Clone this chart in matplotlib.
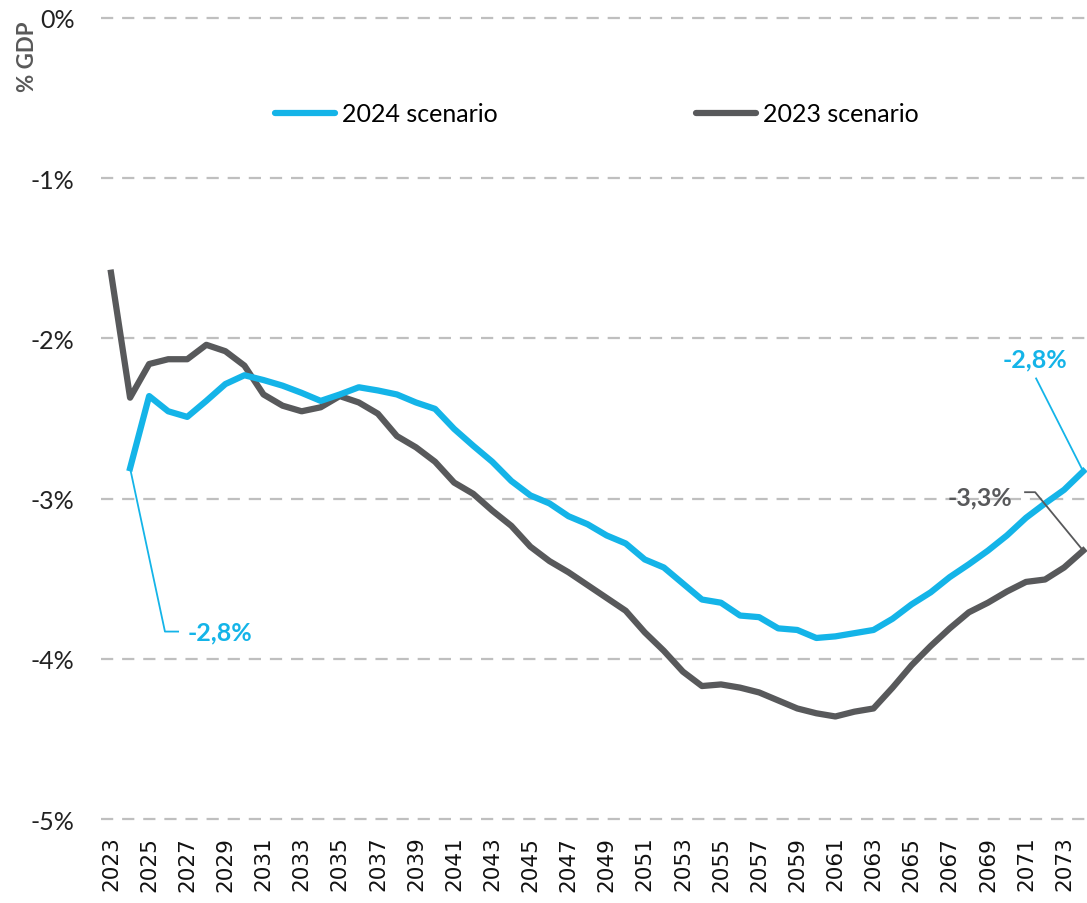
import numpy as np
import matplotlib.pyplot as plt

# data (% of GDP)
years_2023 = np.arange(2023, 2075)
scen_2023 = [-1.59, -2.37, -2.16, -2.13, -2.13, -2.04, -2.08, -2.17, -2.35, -2.42,
             -2.455, -2.43, -2.36, -2.40, -2.47, -2.61, -2.68, -2.77, -2.90, -2.97,
             -3.075, -3.17, -3.30, -3.39, -3.46, -3.54, -3.62, -3.70, -3.835, -3.95,
             -4.08, -4.17, -4.16, -4.18, -4.21, -4.26, -4.31, -4.34, -4.36, -4.33,
             -4.31, -4.18, -4.04, -3.92, -3.81, -3.71, -3.65, -3.58, -3.52, -3.505,
             -3.43, -3.325]

years_2024 = np.arange(2024, 2075)
scen_2024 = [-2.81, -2.36, -2.455, -2.49, -2.39, -2.285, -2.23, -2.26, -2.295, -2.34,
             -2.39, -2.35, -2.305, -2.325, -2.35, -2.40, -2.44, -2.565, -2.67, -2.77,
             -2.89, -2.98, -3.03, -3.11, -3.16, -3.23, -3.28, -3.38, -3.43, -3.53,
             -3.63, -3.65, -3.73, -3.74, -3.81, -3.82, -3.87, -3.86, -3.84, -3.82,
             -3.75, -3.66, -3.585, -3.49, -3.41, -3.325, -3.23, -3.12, -3.03, -2.945,
             -2.83]

xticks = np.arange(2023, 2075, 2)
yticks = [0, -1, -2, -3, -4, -5]
ytick_labels = ['0%', '-1%', '-2%', '-3%', '-4%', '-5%']

blue = '#14B4E8'
dark = '#58595B'
grid_col = '#BFBFBF'

plt.rcParams['font.family'] = ['Lato', 'DejaVu Sans']

fig = plt.figure(figsize=(10.87, 9.04), dpi=100)
ax = fig.add_axes([101/1087, 1-820/904, (1087-101)/1087, (820-19)/904])

ax.plot(years_2023, scen_2023, color=dark, lw=4.5, solid_joinstyle='round', clip_on=False, zorder=3)
ax.plot(years_2024, scen_2024, color=blue, lw=4.5, solid_joinstyle='round', clip_on=False, zorder=4)

ax.set_xlim(2022.475, 2074.2)
ax.set_ylim(-5, 0)

for yv in yticks:
    ax.axhline(yv, color=grid_col, lw=1.6, dashes=(5.5, 4), zorder=1, clip_on=False)

ax.set_yticks(yticks)
ax.set_yticklabels(ytick_labels, fontsize=18, color='#222222')
ax.set_xticks(xticks)
ax.set_xticklabels([str(y) for y in xticks], rotation=90, fontsize=15.5,
                   color='#111111', family='DejaVu Sans')
ax.tick_params(axis='both', length=0)
ax.tick_params(axis='y', pad=19)
ax.tick_params(axis='x', pad=12)
for s in ax.spines.values():
    s.set_visible(False)

fig.text(28/1087, 1-57/904, '% GDP', rotation=90, fontsize=16, fontweight='bold',
         color='#595959', ha='center', va='center')

# legend, one row at the top
h1, = ax.plot([], [], color=blue, lw=4.5, solid_capstyle='round')
h2, = ax.plot([], [], color=dark, lw=4.5, solid_capstyle='round')
fig.legend([h1, h2], ['2024 scenario', '2023 scenario'], loc='center',
           bbox_to_anchor=(597/1087, 1-115/904), ncol=2, frameon=False,
           fontsize=18, handlelength=2.4, handletextpad=0.3, columnspacing=7.9)

# end-value labels with leader lines (anchored on the series end points)
x0, y0 = years_2024[0], scen_2024[0]
ax.plot([x0, x0 + 1.83, x0 + 2.52], [y0, -3.83, -3.83], color=blue, lw=1.3,
        clip_on=False, zorder=5)
ax.text(x0 + 3.0, -3.83, '-2,8%', color=blue, fontsize=18, fontweight='bold',
        va='center', ha='left')

x1, y1 = years_2024[-1], scen_2024[-1]
ax.plot([x1 - 2.47, x1], [-2.25, y1], color=blue, lw=1.3, clip_on=False, zorder=5)
ax.text(x1 - 2.52, -2.13, '-2,8%', color=blue, fontsize=18, fontweight='bold',
        va='center', ha='center')

x2, y2 = years_2023[-1], scen_2023[-1]
ax.plot([x2 - 3.05, x2 - 2.52, x2], [-2.96, -2.96, y2], color=dark, lw=1.3,
        clip_on=False, zorder=5)
ax.text(x2 - 5.4, -2.99, '-3,3%', color=dark, fontsize=18, fontweight='bold',
        va='center', ha='center')

plt.savefig('out.png', dpi=100)
